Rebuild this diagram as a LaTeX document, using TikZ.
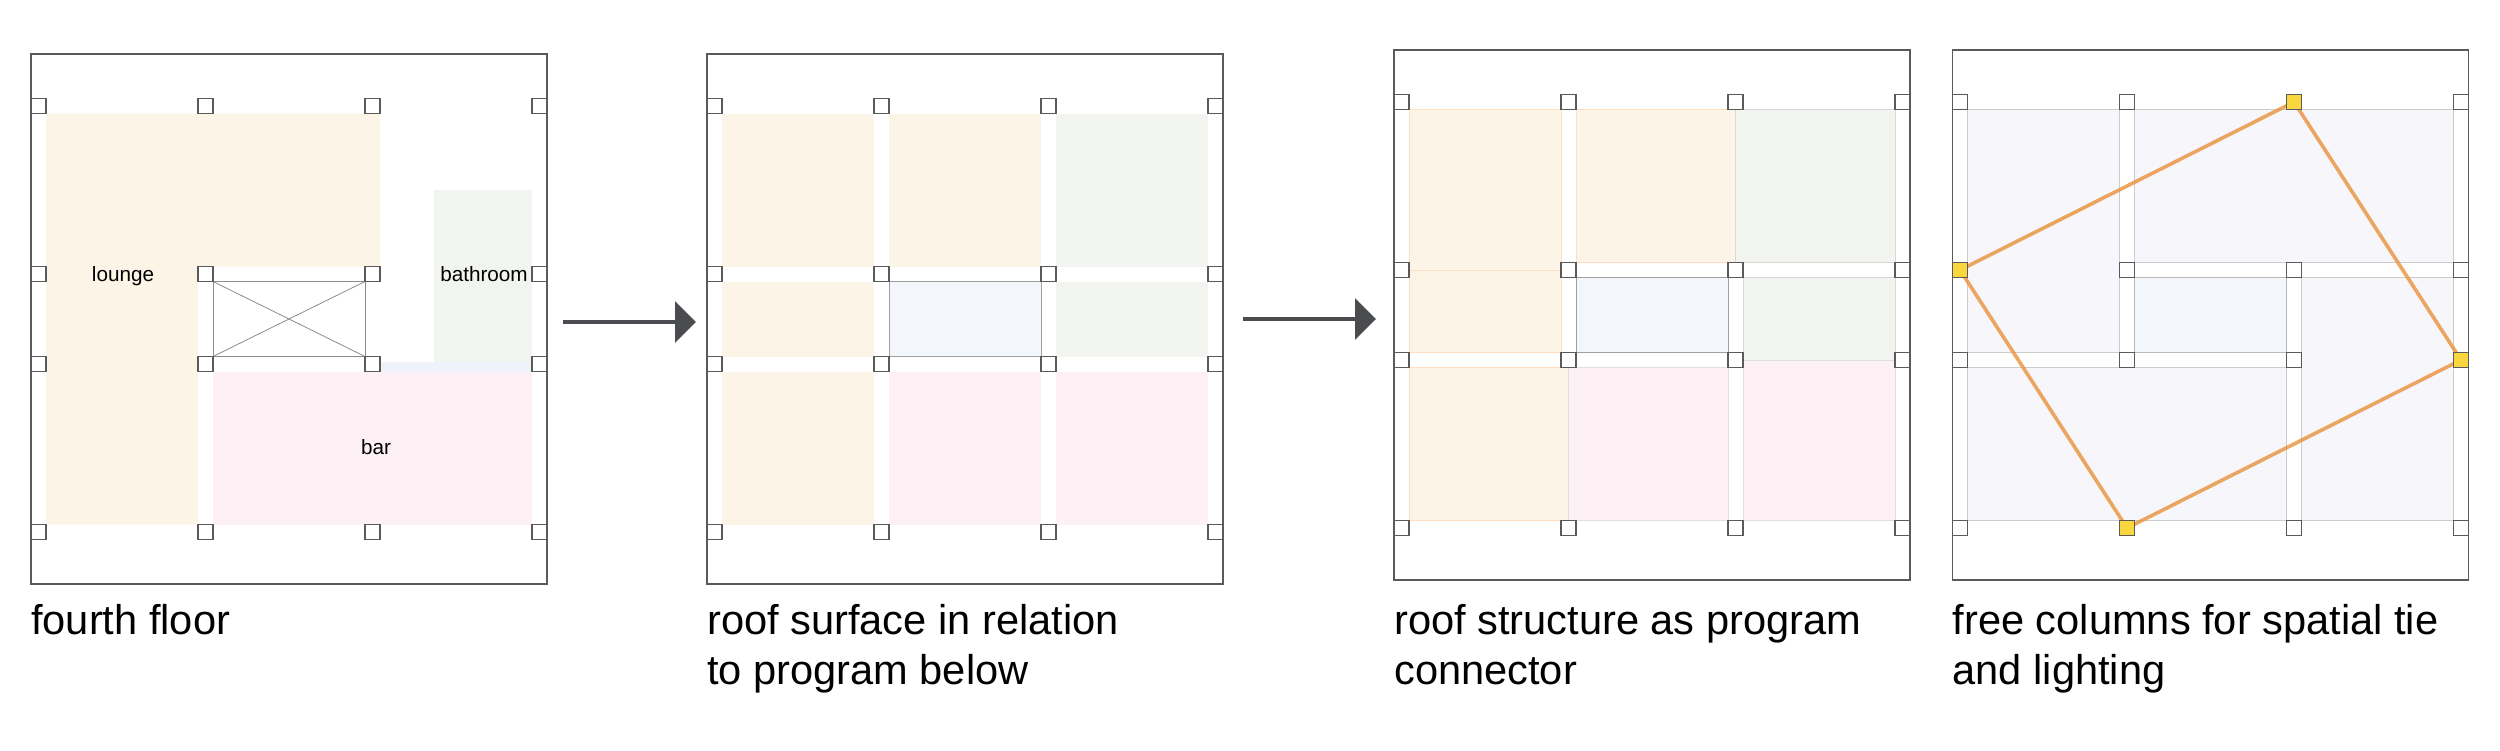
\documentclass[tikz,border=0pt]{standalone}
\usepackage{fontspec}
\setmainfont{Liberation Sans}
\usetikzlibrary{arrows.meta}

\definecolor{framegray}{HTML}{5A5A5A}
\definecolor{loungefill}{HTML}{FDF4E8}
\definecolor{bathfill}{HTML}{F2F5EF}
\definecolor{barfill}{HTML}{FDF1F6}
\definecolor{voidfill}{HTML}{F3F7FC}
\definecolor{stripfill}{HTML}{EEF2FA}
\definecolor{roofgray}{HTML}{F7F7FB}
\definecolor{gold}{HTML}{FAD73F}
\definecolor{tieorange}{HTML}{E8913A}
\definecolor{arrowgray}{HTML}{4B4C50}

% the sixteen columns of one floor plate
\newcommand{\colgrid}{%
  \foreach \cx in {7.5,174.5,341.5,508.5}
    \foreach \cy in {52,220,310,478}
      \draw[col] (\cx-7.5,\cy-7.5) rectangle (\cx+7.5,\cy+7.5);}

\begin{document}
\begin{tikzpicture}[x=1pt,y=-1pt,
    plate/.style={draw=framegray, line width=1.3pt},
    col/.style={draw=framegray, fill=white, line width=1.2pt},
    freecol/.style={col, fill=gold},
    flow/.style={draw=arrowgray, line width=3.3pt, -{Triangle[length=21pt,width=41pt]}},
    roomlbl/.style={font=\fontsize{20.7}{24}\selectfont, anchor=base, inner sep=0pt},
    caption/.style={font=\fontsize{41.6}{50}\selectfont, anchor=base west, inner sep=0pt}]
    \useasboundingbox (0,0) rectangle (2500,750);

    % fourth floor
    \begin{scope}[shift={(31,54)}]
        \draw[plate] (0,0) rectangle (516,530);
        \fill[loungefill] (15,59.5) -- (349,59.5) -- (349,212.5) -- (167,212.5)
            -- (167,470.5) -- (15,470.5) -- cycle;
        \fill[bathfill] (403,136) rectangle (501,308);
        \fill[stripfill] (349,308) rectangle (501,317.5);
        \fill[barfill] (182,317.5) rectangle (501,470.5);
        \draw[gray!90, line width=0.8pt] (182,227.5) rectangle (334,302.5);
        \draw[gray!90, line width=0.8pt] (182,227.5) -- (334,302.5);
        \draw[gray!90, line width=0.8pt] (182,302.5) -- (334,227.5);
        \colgrid
        \node[roomlbl] (lounge) at (92,227) {lounge};
        \node[roomlbl] (bathroom) at (453,227) {bathroom};
        \node[roomlbl] (bar) at (345,400) {bar};
    \end{scope}

    \coordinate (a1s) at (563,322);
    \coordinate (a1e) at (696,322);
    \draw[flow] (a1s) -- (a1e);

    % roof surface
    \begin{scope}[shift={(707,54)}]
        \draw[plate] (0,0) rectangle (516,530);
        \fill[loungefill] (15,59.5) rectangle (167,212.5);
        \fill[loungefill] (182,59.5) rectangle (334,212.5);
        \fill[bathfill] (349,59.5) rectangle (501,212.5);
        \fill[loungefill] (15,227.5) rectangle (167,302.5);
        \filldraw[fill=voidfill, draw=gray!75, line width=0.8pt] (182,227.5) rectangle (334,302.5);
        \fill[bathfill] (349,227.5) rectangle (501,302.5);
        \fill[loungefill] (15,317.5) rectangle (167,470.5);
        \fill[barfill] (182,317.5) rectangle (334,470.5);
        \fill[barfill] (349,317.5) rectangle (501,470.5);
        \colgrid
    \end{scope}

    \coordinate (a2s) at (1243,319);
    \coordinate (a2e) at (1376,319);
    \draw[flow] (a2s) -- (a2e);

    % roof structure
    \begin{scope}[shift={(1394,50)}, line width=0.8pt]
        \draw[plate] (0,0) rectangle (516,530);
        \filldraw[fill=loungefill, draw=orange!25] (15,59.5) rectangle (167,220);
        \filldraw[fill=loungefill, draw=orange!25] (15,220) rectangle (167,302.5);
        \filldraw[fill=loungefill, draw=orange!25] (15,317.5) rectangle (174.5,470.5);
        \filldraw[fill=loungefill, draw=orange!25] (182,59.5) rectangle (341.5,212.5);
        \filldraw[fill=barfill, draw=gray!25] (174.5,317.5) rectangle (334,470.5);
        \filldraw[fill=bathfill, draw=gray!30] (341.5,59.5) rectangle (501,212.5);
        \filldraw[fill=voidfill, draw=gray!75] (182,227.5) rectangle (334,302.5);
        \filldraw[fill=bathfill, draw=gray!30] (349,227.5) rectangle (501,310);
        \filldraw[fill=barfill, draw=gray!25] (349,310) rectangle (501,470.5);
        \colgrid
    \end{scope}

    % free columns
    \begin{scope}[shift={(1952.5,50)}, line width=0.8pt]
        \draw[plate] (0,0) rectangle (516,530);
        \filldraw[fill=roofgray, draw=gray!40] (15,59.5) rectangle (167,302.5);
        \filldraw[fill=roofgray, draw=gray!40] (182,59.5) rectangle (501,212.5);
        \filldraw[fill=voidfill, draw=gray!55] (182,227.5) rectangle (334,302.5);
        \filldraw[fill=roofgray, draw=gray!40] (349,227.5) rectangle (501,470.5);
        \filldraw[fill=roofgray, draw=gray!40] (15,317.5) rectangle (334,470.5);
        \colgrid
        \draw[tieorange, opacity=0.8, line width=3.6pt, line join=round]
            (341.5,52) -- (508.5,310) -- (174.5,478) -- (7.5,220) -- cycle;
        \foreach \cx/\cy in {341.5/52, 7.5/220, 508.5/310, 174.5/478}
            \draw[freecol] (\cx-7.5,\cy-7.5) rectangle (\cx+7.5,\cy+7.5);
    \end{scope}

    \node[caption] (capA) at (31,634) {fourth floor};
    \node[caption] (capB1) at (707,634) {roof surface in relation};
    \node[caption] (capB2) at (707,684) {to program below};
    \node[caption] (capC1) at (1394,634) {roof structure as program};
    \node[caption] (capC2) at (1394,684) {connector};
    \node[caption] (capD1) at (1952.5,634) {free columns for spatial tie};
    \node[caption] (capD2) at (1952.5,684) {and lighting};
\end{tikzpicture}
\end{document}
